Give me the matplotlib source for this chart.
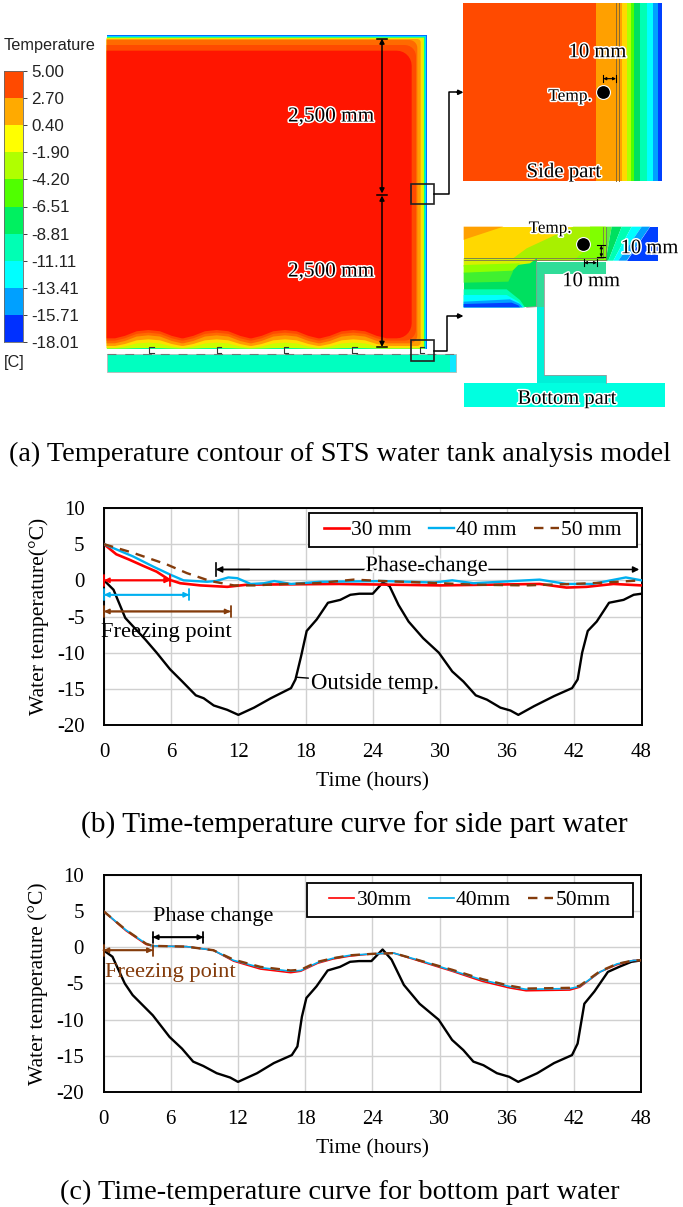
import numpy as np
import matplotlib
matplotlib.use('Agg')
import matplotlib.pyplot as plt
import matplotlib.patheffects as pe
from matplotlib.colors import ListedColormap, BoundaryNorm
from matplotlib.patches import Polygon, Rectangle

plt.rcParams['axes.unicode_minus'] = False
SERIF = 'Liberation Serif'
SANS = 'Liberation Sans'
W, H = 683, 1207

# colour scale
scale_labels = ['5.00', '2.70', '0.40', '-1.90', '-4.20', '-6.51', '-8.81', '-11.11', '-13.41', '-15.71', '-18.01']
scale_colors = ['#0030ff', '#00a0ff', '#00ffff', '#00ffb4', '#00f060', '#50ff00', '#b0ff00', '#ffff00', '#ffaa00', '#ff4a00']

# outside temperature, chart (b)
out_t_b = [0, .85, 1.9, 3.7, 4.7, 5.9, 7, 8.2, 8.9, 9.8, 11, 12, 13.4, 14.9, 16.7, 17.1, 17.6, 18.1, 19, 20, 21.1, 22,
           22.8, 24, 24.9, 25.5, 26.3, 27.2, 28.5, 29.9, 31.1, 32.1, 33.2, 34.2, 35.4, 36.3, 37, 38.4, 40.2, 41.8, 42.3,
           42.7, 43.2, 44, 45.1, 46.4, 47.3, 48]
out_b = [0, -1.3, -5.2, -8.2, -10, -12.3, -14, -15.9, -16.3, -17.3, -17.9, -18.6, -17.6, -16.3, -14.9, -13.7, -10.5, -7,
         -5.4, -3.1, -2.7, -2, -1.85, -1.85, -.3, -.8, -3.4, -5.7, -8, -10, -12.6, -14, -15.9, -16.5, -17.6, -18, -18.6,
         -17.4, -16, -14.9, -13.7, -10, -7, -5.7, -3.1, -2.7, -2, -1.85]

# side part water
t30_b = [0, 1.1, 2.2, 3.5, 4.7, 5.8, 6.8, 8.6, 11, 12.8, 21, 30, 38.9, 41.3, 43.1, 45.5, 48]
v30_b = [5, 3.6, 2.9, 2, 1.2, .1, -.4, -.7, -.9, -.6, -.5, -.7, -.5, -1, -.9, -.5, -.7]
t40_b = [0, 2.6, 4.4, 5.9, 7.1, 9.2, 10, 11.1, 11.9, 13.1, 14.3, 15.2, 16.7, 19.3, 25, 29.5, 31.1, 33, 38.9, 41.3, 43.6, 46.6, 48]
v40_b = [5, 3.3, 1.9, .8, 0, -.2, -.1, .4, .3, -.5, -.4, -.1, -.5, -.2, -.1, -.3, 0, -.4, .1, -.5, -.5, .4, 0]
t50_b = [0, 2.6, 5.6, 7.4, 9.5, 11.6, 13.4, 16.1, 19, 22.3, 24.9, 29.4, 33, 37.7, 41.9, 44.2, 48]
v50_b = [5, 3.8, 2.2, 1, -.1, -.7, -.7, -.5, -.4, .1, -.1, -.35, -.6, -.7, -.5, -.35, 0]

# outside temperature, chart (c)
out_t_c = [0, .8, 1.9, 2.6, 4.4, 5.9, 7, 8, 8.9, 10.1, 11.3, 12, 13.7, 15.2, 16.8, 17.3, 17.7, 18.1, 19, 20, 21.1, 22,
           22.8, 23.9, 24.9, 25.7, 26.8, 28.2, 29.9, 31.1, 32.1, 33, 33.9, 35.1, 36.2, 37, 38.7, 40.2, 41.8, 42.3, 42.9,
           43.8, 45, 46, 47.1, 48]
out_c = [-.4, -1.3, -5, -6.6, -9.4, -12.4, -14, -15.8, -16.4, -17.4, -18, -18.6, -17.4, -16, -14.9, -13.7, -9.6, -7,
         -5.4, -3.2, -2.7, -2, -1.9, -1.9, -.3, -1.7, -5.2, -7.8, -10, -12.8, -14.2, -15.8, -16.3, -17.4, -17.9, -18.6,
         -17.4, -16, -14.9, -13.3, -7.8, -6.1, -3.4, -2.7, -2, -1.8]

# bottom part water
t_c = [0, 2, 3.8, 4.4, 7.4, 9.8, 11.6, 14, 16.7, 17.6, 19.1, 20.5, 22, 24, 25.9, 28.4, 31.1, 33.8, 36.2, 37.7, 41.6, 42.5, 44.3, 45.8, 47.3, 48]
v30_c = [5, 2.3, .4, .2, .1, -.4, -1.9, -3, -3.5, -3.3, -2.2, -1.6, -1.2, -.9, -.8, -2, -3.3, -4.7, -5.6, -6, -5.9, -5.5, -3.4, -2.4, -1.8, -1.8]
v40_c = [5, 2.4, .5, .2, .1, -.4, -1.8, -2.8, -3.3, -3.2, -2.1, -1.5, -1.1, -.9, -.8, -1.9, -3.2, -4.5, -5.4, -5.8, -5.7, -5.4, -3.4, -2.3, -1.8, -1.8]
v50_c = [5, 2.4, .5, .2, .1, -.4, -1.7, -2.7, -3.2, -3.1, -2, -1.5, -1.1, -.9, -.8, -1.9, -3.1, -4.4, -5.3, -5.7, -5.6, -5.3, -3.3, -2.3, -1.8, -1.8]

hour_ticks = list(range(0, 49, 6))
temp_ticks = [10, 5, 0, -5, -10, -15, -20]
size_names = ['30 mm', '40 mm', '50 mm']
size_names_c = ['30mm', '40mm', '50mm']

RED, BLUE, BROWN = '#ff0000', '#00b0f0', '#843c0c'

fig = plt.figure(figsize=(W / 100, H / 100), dpi=100)
canvas = fig.add_axes([0, 0, 1, 1])
canvas.set_xlim(0, W)
canvas.set_ylim(H, 0)
canvas.axis('off')


def px_axes(x0, y0, x1, y1):
    return fig.add_axes([x0 / W, 1 - y1 / H, (x1 - x0) / W, (y1 - y0) / H])


def halo(txt, width=2.2):
    txt.set_path_effects([pe.withStroke(linewidth=width, foreground='white')])
    return txt


def label(x, y, s, size=13, color='k', stroke=True, family=SERIF):
    t = canvas.text(x, y, s, fontsize=size, color=color, family=family, ha='center', va='center', zorder=20)
    return halo(t) if stroke else t


def dim(p0, p1, color='k', lw=1.2, style='<|-|>', scale=6):
    canvas.annotate('', xy=p1, xytext=p0, zorder=18,
                    arrowprops=dict(arrowstyle=style, color=color, lw=lw, shrinkA=0, shrinkB=0, mutation_scale=scale))


# colour bar
bar = px_axes(4, 71, 23, 342)
levels = [float(s) for s in scale_labels[::-1]]
edges = np.arange(len(levels))
bar.pcolormesh([0, 1], edges, np.arange(10).reshape(-1, 1), cmap=ListedColormap(scale_colors),
               norm=BoundaryNorm(np.arange(-.5, 10.5), 10))
bar.set_xticks([])
bar.yaxis.tick_right()
bar.set_yticks(edges)
bar.set_yticklabels(scale_labels[::-1], family=SANS, fontsize=12.2)
bar.tick_params(axis='y', length=3, width=.6, pad=3, colors='#222222')
for s in bar.spines.values():
    s.set_linewidth(.6)
    s.set_color('#666666')
canvas.text(4, 45.5, 'Temperature', family=SANS, fontsize=11.7, va='center', color='#222222')
canvas.text(4, 362, '[C]', family=SANS, fontsize=11.7, va='center', color='#222222')


# tank, coordinates below are zoom-crop units (3x)
def z1(points):
    return [(x / 3, y / 3) for x, y in points]


humps = [445, 650, 855, 1060]


def tank_band(top, right, trough, hump, r):
    pts = [(320, top), (right - r, top)]
    for a in np.linspace(90, 0, 8):
        pts.append((right - r + r * np.cos(np.radians(a)), top + r - r * np.sin(np.radians(a))))
    for a in np.linspace(0, -90, 8):
        pts.append((right - r + r * np.cos(np.radians(a)), trough - r - r * np.sin(np.radians(a))))
    for c in humps[::-1]:
        for dx, f in [(100, 0), (70, .3), (35, .85), (0, 1), (-35, .85), (-70, .3), (-100, 0)]:
            pts.append((c + dx, trough - (trough - hump) * f))
    pts.append((320, trough))
    return pts


tank_bands = [
    (105, 1282, 1046, 1046, 0, '#0070ff'),
    (108, 1279, 1046, 1046, 0, '#00d8ff'),
    (110, 1276, 1046, 1046, 0, '#00ff90'),
    (113, 1272, 1046, 1044, 0, '#c8ff00'),
    (115, 1268, 1044, 1028, 2, '#ffe000'),
    (117, 1262, 1038, 1018, 10, '#ff9c00'),
    (120, 1252, 1030, 1006, 24, '#ff6a00'),
    (135, 1248, 1022, 998, 34, '#ff4a00'),
    (152, 1235, 1015, 990, 45, '#ff1500'),
]
for top, right, trough, hump, r, col in tank_bands:
    canvas.add_patch(Polygon(z1(tank_band(top, right, trough, hump, r)), fc=col, ec='none', zorder=2))

# base plate and supports
canvas.add_patch(Rectangle((320 / 3, 1062 / 3), 1047 / 3, 55 / 3, fc='#00ffc0', ec='#b8b8b8', lw=.6, zorder=2))
canvas.add_patch(Rectangle((1350 / 3, 1064 / 3), 17 / 3, 51 / 3, fc='#10e8ff', ec='none', zorder=2))
canvas.plot(np.array([320, 1367]) / 3, np.array([1062, 1062]) / 3, color='#777777', lw=.8, dashes=(8, 8), zorder=3)
for c in [453, 656, 857, 1063, 1265]:
    canvas.plot(np.array([c + 8, c - 6, c - 6, c + 8]) / 3, np.array([1041, 1041, 1060, 1060]) / 3, color='#333333', lw=.8, zorder=3)

# dimension and call-outs
dim((382, 38.5), (382, 193.5), lw=1.1, scale=7)
dim((382, 195.5), (382, 347), lw=1.1, scale=7)
for y in [38.5, 194.5, 347]:
    canvas.plot([377, 387], [y, y], 'k', lw=1.1, zorder=18)
label(331, 117, '2,500 mm', size=15.3)
label(331, 272, '2,500 mm', size=15.3)
for y0, y1 in [(551, 612), (1020, 1083)]:
    canvas.add_patch(Rectangle((1233 / 3, y0 / 3), 23, (y1 - y0) / 3, fc='none', ec='#222222', lw=1.2, zorder=15))
canvas.plot([434, 449, 449, 460], [194, 194, 92.3, 92.3], 'k', lw=1.1, zorder=15)
canvas.plot([434, 447, 447, 460], [350.7, 350.7, 316, 316], 'k', lw=1.1, zorder=15)
for y in [92.3, 316]:
    dim((457, y), (463.5, y), style='-|>', scale=7)


# side part inset, zoom-crop units of the right hand column
def z2(points):
    return [(440 + x / 3, y / 3) for x, y in points]


side_edges = [70, 469, 545, 562, 572, 583, 600, 620, 640, 655, 665]
side_colors = ['#ff4a00', '#ffa000', '#ffd800', '#b0ff00', '#50ff00', '#00e060', '#00ffb4', '#00ffff', '#00a0ff', '#0040ff']
for a, b, col in zip(side_edges[:-1], side_edges[1:], side_colors):
    canvas.add_patch(Polygon(z2([(a, 10), (b, 10), (b, 543), (a, 543)]), fc=col, ec='none', zorder=2))
for x in [527, 536]:
    canvas.plot([440 + x / 3] * 2, [10 / 3, 181], color='#8a6a30', lw=.7, zorder=3)
canvas.plot(440 + 488 / 3, 275 / 3, 'o', color='k', ms=10, mec='white', mew=.8, zorder=16)
label(440 + 390 / 3, 290 / 3, 'Temp.', size=12.5)
label(440 + 472 / 3, 158 / 3, '10 mm', size=14.8)
label(440 + 372 / 3, 518 / 3, 'Side part', size=15)
dim((440 + 490 / 3, 236 / 3), (440 + 528 / 3, 236 / 3), lw=.8, scale=4)
for x in [490, 528]:
    canvas.plot([440 + x / 3] * 2, [225 / 3, 247 / 3], 'k', lw=.8, zorder=18)

# bottom part inset, back to front
bottom_polys = [
    ([(71, 680), (497, 680), (497, 782), (71, 782)], '#ffd800'),
    ([(71, 680), (190, 680), (75, 718), (71, 720)], '#ffa000'),
    ([(400, 680), (497, 680), (497, 782), (210, 782), (260, 745)], '#a8f000'),
    ([(450, 680), (497, 680), (497, 782), (400, 782), (450, 740)], '#80ff00'),
    ([(497, 680), (515, 680), (497, 782)], '#60f040'),
    ([(515, 680), (545, 680), (505, 782), (497, 782)], '#00e060'),
    ([(545, 680), (575, 680), (520, 782), (505, 782)], '#00ffb4'),
    ([(575, 680), (605, 680), (535, 782), (520, 782)], '#00ffff'),
    ([(605, 680), (630, 680), (560, 782), (535, 782)], '#00a0ff'),
    ([(630, 680), (655, 680), (655, 782), (560, 782)], '#0040ff'),
    ([(71, 775), (290, 775), (290, 922), (71, 922)], '#00e060'),
    ([(71, 775), (290, 775), (270, 790), (230, 795), (71, 800)], '#d8f000'),
    ([(71, 795), (240, 790), (215, 815), (71, 820)], '#90ff00'),
    ([(71, 818), (220, 812), (205, 845), (71, 848)], '#40f030'),
    ([(71, 868), (200, 868), (240, 900), (255, 922), (71, 922)], '#00ffb4'),
    ([(71, 885), (200, 885), (235, 905), (252, 922), (71, 922)], '#00ffff'),
    ([(71, 905), (210, 898), (240, 912), (248, 922), (71, 922)], '#00a0ff'),
    ([(71, 912), (215, 908), (235, 916), (240, 922), (71, 922)], '#0040ff'),
    ([(290, 785), (497, 785), (497, 822), (312, 822), (312, 920), (290, 920)], '#30dc98'),
    ([(291, 920), (312, 920), (312, 1125), (497, 1125), (497, 1150), (291, 1150)], '#00f0d8'),
    ([(71, 1150), (675, 1150), (675, 1220), (71, 1220)], '#00ffe0'),
]
for pts, col in bottom_polys:
    canvas.add_patch(Polygon(z2(pts), fc=col, ec='none', zorder=2))
canvas.plot(*zip(*z2([(71, 773), (488, 773), (488, 680)])), color='#777755', lw=.6, zorder=3)
canvas.plot(*zip(*z2([(71, 780), (497, 780), (497, 680)])), color='#777755', lw=.6, zorder=3)
canvas.plot(*zip(*z2([(290, 785), (290, 920), (260, 922)])), color='#999999', lw=.6, zorder=3)
canvas.plot(*zip(*z2([(312, 822), (312, 1125), (497, 1125), (497, 1150)])), color='#999999', lw=.6, zorder=3)
canvas.plot(440 + 430 / 3, 732 / 3, 'o', color='k', ms=10, mec='white', mew=.8, zorder=16)
label(440 + 330 / 3, 686 / 3, 'Temp.', size=12.3)
label(440 + 628 / 3, 746 / 3, '10 mm', size=14.8)
label(440 + 453 / 3, 845 / 3, '10 mm', size=14.8)
label(440 + 380 / 3, 1198 / 3, 'Bottom part', size=14.8)
dim((440 + 432 / 3, 788 / 3), (440 + 471 / 3, 788 / 3), lw=.8, scale=4)
dim((440 + 484 / 3, 736 / 3), (440 + 484 / 3, 772 / 3), lw=.8, scale=4)
for x in [432, 471]:
    canvas.plot([440 + x / 3] * 2, [778 / 3, 798 / 3], 'k', lw=.8, zorder=18)
for y in [736, 772]:
    canvas.plot([440 + 472 / 3, 440 + 496 / 3], [y / 3, y / 3], 'k', lw=.8, zorder=18)

# captions
label(339.5, 454, '(a) Temperature contour of STS water tank analysis model', size=20.3, stroke=False)
label(354, 825, '(b) Time-temperature curve for side part water', size=21.2, stroke=False)
label(340, 1192, '(c) Time-temperature curve for bottom part water', size=20.3, stroke=False)


def setup_chart(ax, ylabel):
    ax.set_xlim(0, 48)
    ax.set_ylim(-20, 10)
    ax.set_xticks(hour_ticks)
    ax.set_yticks(temp_ticks)
    ax.tick_params(length=0, labelsize=15, pad=13)
    ax.tick_params(axis='y', pad=14)
    ax.grid(color='#d0d0d0', lw=1)
    ax.set_axisbelow(True)
    for lab in ax.get_xticklabels() + ax.get_yticklabels():
        lab.set_family(SERIF)
    for s in ax.spines.values():
        s.set_linewidth(1.4)
    ax.set_xlabel('Time (hours)', family=SERIF, fontsize=15.6, labelpad=7)
    ax.set_ylabel(ylabel, family=SERIF, fontsize=15.6)
    ax.yaxis.set_label_coords(-55 / 537.5, .5)


def span(ax, x0, x1, y, color, lw=1.3):
    ax.annotate('', xy=(x1, y), xytext=(x0, y), zorder=6,
                arrowprops=dict(arrowstyle='|-|,widthA=.4,widthB=.4', color=color, lw=lw, shrinkA=0, shrinkB=0))
    ax.annotate('', xy=(x1, y), xytext=(x0, y), zorder=6,
                arrowprops=dict(arrowstyle='<|-|>', color=color, lw=lw, shrinkA=0, shrinkB=0, mutation_scale=7))


def chart_legend(ax, x0, y0, x1, y1):
    # frame is drawn apart from the entries, its side margins differ from the top ones
    box = ax.get_window_extent()
    bx0, by0 = (x0 - box.x0) / box.width, 1 - (y1 - (H - box.y1)) / box.height
    bw, bh = (x1 - x0) / box.width, (y1 - y0) / box.height
    ax.add_patch(Rectangle((bx0, by0), bw, bh, transform=ax.transAxes, fc='white', ec='k', lw=1.3, zorder=7))
    leg = ax.legend(loc='center', bbox_to_anchor=(bx0 + bw / 2, by0 + bh / 2), ncol=3, frameon=False, borderpad=0,
                    borderaxespad=0, handlelength=1.15, handletextpad=.12, columnspacing=.8,
                    prop=dict(family=SERIF, size=15.5))
    leg.set_zorder(8)


# chart (b)
ax_b = px_axes(104, 508, 641.5, 725)
setup_chart(ax_b, 'Water temperature(°C)')
ax_b.plot(out_t_b, out_b, color='k', lw=1.7, zorder=3)
ax_b.plot(t30_b, v30_b, color=RED, lw=1.9, label=size_names[0], zorder=4)
ax_b.plot(t40_b, v40_b, color=BLUE, lw=1.7, label=size_names[1], zorder=4)
ax_b.plot(t50_b, v50_b, color=BROWN, lw=1.7, ls=(0, (4, 3)), label=size_names[2], zorder=5)
chart_legend(ax_b, 309, 513, 637, 547)
span(ax_b, 0, 5.9, 0, RED)
span(ax_b, 0, 7.6, -2, BLUE)
span(ax_b, 0, 11.3, -4.3, BROWN)
ax_b.annotate('', xy=(47.8, 1.5), xytext=(10.1, 1.5), zorder=6,
              arrowprops=dict(arrowstyle='-|>', color='k', lw=1.1, shrinkA=0, shrinkB=0, mutation_scale=9))
ax_b.annotate('', xy=(10, 1.5), xytext=(13, 1.5), zorder=6,
              arrowprops=dict(arrowstyle='-|>', color='k', lw=1.1, shrinkA=0, shrinkB=0, mutation_scale=9))
ax_b.plot([10, 10], [.6, 2.4], 'k', lw=1.2, zorder=6)
t = ax_b.text(28.8, 1.9, 'Phase-change', family=SERIF, fontsize=16, ha='center', va='center', zorder=7)
halo(t, 3)
ax_b.text(5.6, -7.2, 'Freezing point', family=SERIF, fontsize=16.2, ha='center', va='center', zorder=7)
ax_b.annotate('Outside temp.', xy=(17.2, -13.4), xytext=(18.5, -14.2), family=SERIF, fontsize=16.4, va='center', zorder=7,
              arrowprops=dict(arrowstyle='-', color='k', lw=1, shrinkA=0, shrinkB=0))

# chart (c)
ax_c = px_axes(103.5, 875, 641.5, 1092)
setup_chart(ax_c, 'Water temperature (°C)')
ax_c.plot(out_t_c, out_c, color='k', lw=1.7, zorder=3)
ax_c.plot(t_c, v30_c, color=RED, lw=1.2, label=size_names_c[0], zorder=4)
ax_c.plot(t_c, v40_c, color=BLUE, lw=1.2, label=size_names_c[1], zorder=4)
ax_c.plot(t_c, v50_c, color=BROWN, lw=1.7, ls=(0, (4, 3)), label=size_names_c[2], zorder=5)
chart_legend(ax_c, 307, 883, 633, 917)
span(ax_c, 4.4, 8.9, 1.4, 'k')
span(ax_c, 0, 4.4, -.4, BROWN)
ax_c.text(9.8, 4.2, 'Phase change', family=SERIF, fontsize=16, ha='center', va='center', zorder=7)
ax_c.text(6, -3.5, 'Freezing point', family=SERIF, fontsize=16.2, color=BROWN, ha='center', va='center', zorder=7)

fig.savefig('out.png', dpi=100)
